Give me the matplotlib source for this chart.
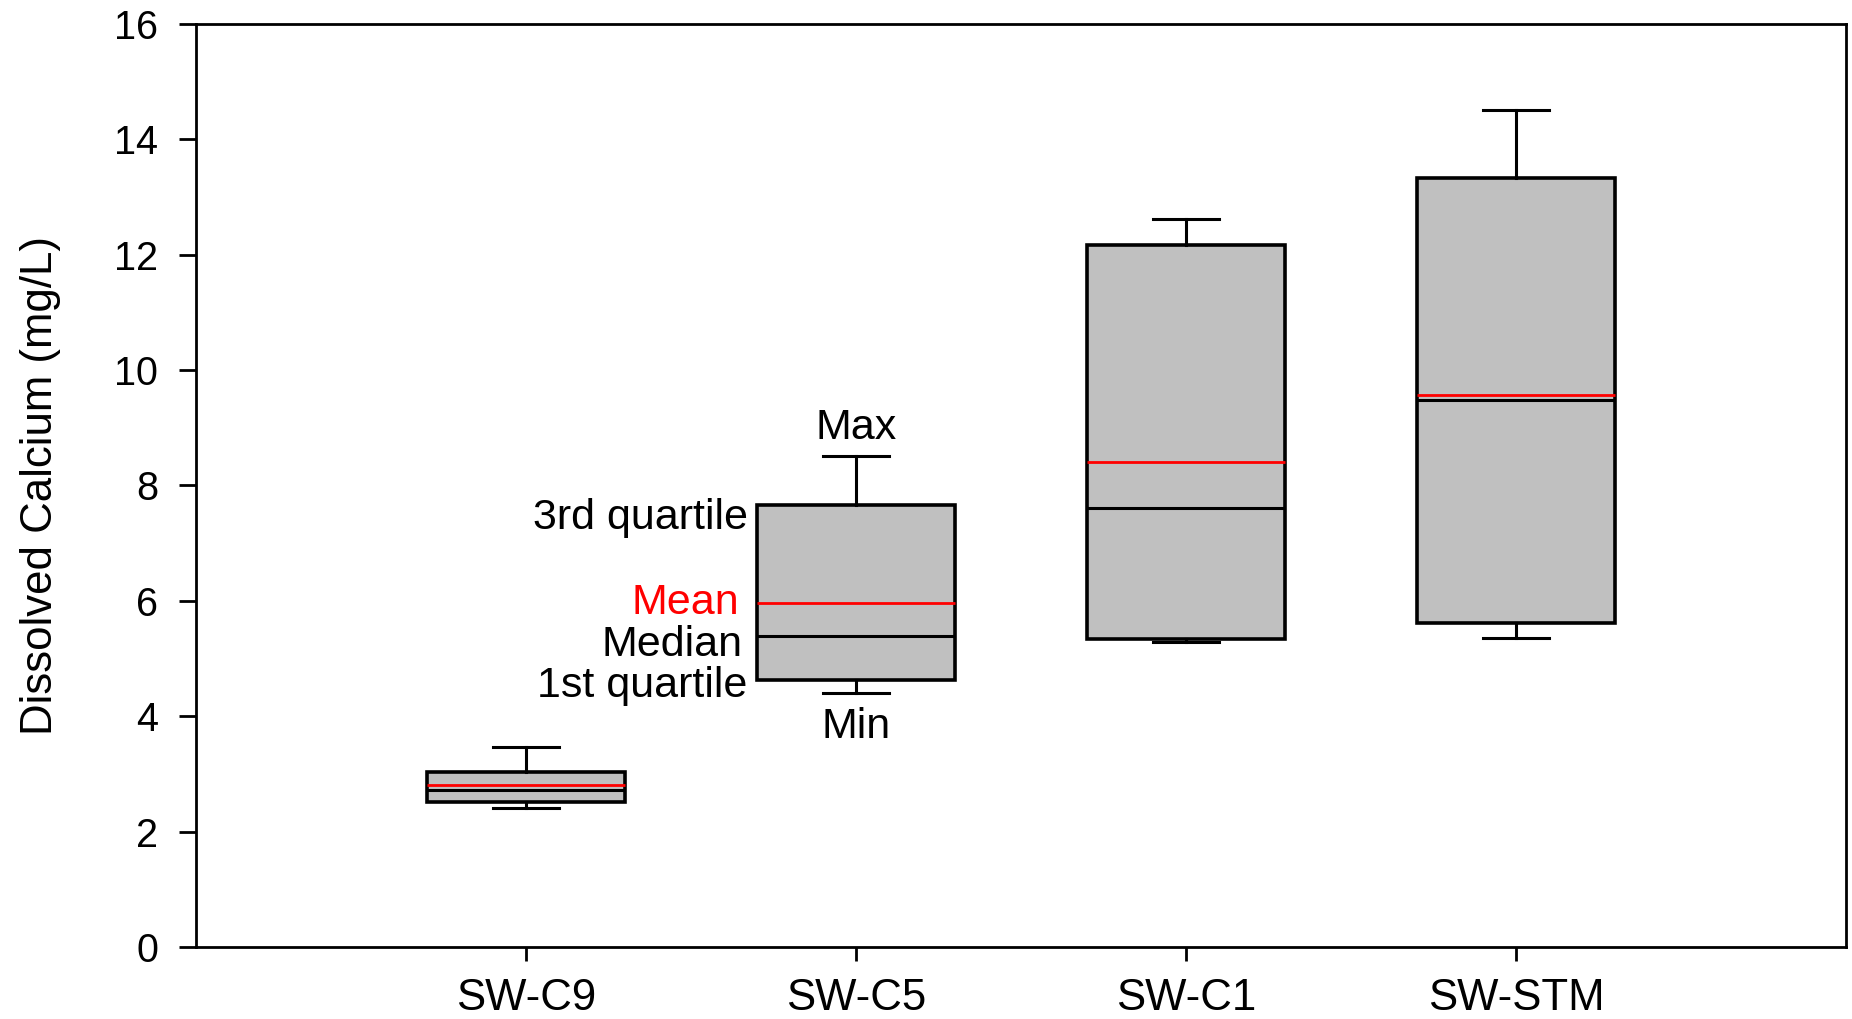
import matplotlib
matplotlib.use("Agg")
import matplotlib.pyplot as plt

plt.rcParams['font.family'] = ['Liberation Sans', 'DejaVu Sans']

# Dissolved calcium summary stats per surface-water site (mg/L)
sites = ['SW-C9', 'SW-C5', 'SW-C1', 'SW-STM']
ca_min = [2.41, 4.40, 5.28, 5.35]
ca_q1 = [2.52, 4.63, 5.34, 5.61]
ca_median = [2.73, 5.40, 7.61, 9.48]
ca_mean = [2.81, 5.97, 8.41, 9.57]
ca_q3 = [3.04, 7.66, 12.17, 13.32]
ca_max = [3.47, 8.51, 12.62, 14.51]

# site used for the legend-style callouts
key_site = 1
box_width = 0.6

stats = []
for i, name in enumerate(sites):
  stats.append({
    'label': name,
    'whislo': ca_min[i],
    'q1': ca_q1[i],
    'med': ca_median[i],
    'mean': ca_mean[i],
    'q3': ca_q3[i],
    'whishi': ca_max[i],
    'fliers': [],
  })

fig = plt.figure(figsize=(18.52, 10.19), dpi=100)
ax = fig.add_axes([0.1056, 0.0704, 0.8912, 0.9064])

ax.bxp(
  stats,
  positions=range(1, len(sites) + 1),
  widths=box_width,
  capwidths=0.2,
  patch_artist=True,
  showmeans=True,
  meanline=True,
  showfliers=False,
  boxprops=dict(facecolor='#C0C0C0', edgecolor='black', linewidth=2.6),
  whiskerprops=dict(color='black', linewidth=2.2),
  capprops=dict(color='black', linewidth=2.2),
  medianprops=dict(color='black', linewidth=2.2),
  meanprops=dict(color='red', linewidth=2.0, linestyle='-'),
)

ax.set_xlim(0, 5)
ax.set_ylim(0, 16)
ax.set_yticks(range(0, 17, 2))
ax.set_xticks(range(1, len(sites) + 1))
ax.set_xticklabels(sites)

for side in ['left', 'bottom', 'top', 'right']:
  ax.spines[side].set_linewidth(2.0)

ax.tick_params(axis='y', direction='out', length=12, width=2.0, pad=15, labelsize=28.5)
ax.tick_params(axis='x', direction='out', length=10, width=2.0, pad=12, labelsize=31.5)
ax.tick_params(top=False, right=False)

ax.set_ylabel('Dissolved Calcium (mg/L)', fontsize=31.5, labelpad=38)

# callouts explaining the box parts, placed beside the SW-C5 box
x = key_site + 1
left = x - box_width / 2
k = key_site
label_size = 31

def callout(text, xy, offset, ha='right', color='black'):
  ax.annotate(text, xy=xy, xytext=offset, textcoords='offset points',
              ha=ha, va='baseline', fontsize=label_size, color=color)

callout('Max', (x, ca_max[k]), (0, 12), ha='center')
callout('3rd quartile', (left, ca_q3[k]), (-6.5, -17))
callout('Mean', (left, ca_mean[k]), (-13, -8), color='red')
callout('Median', (left, ca_median[k]), (-10.5, -15))
callout('1st quartile', (left, ca_q1[k]), (-6.5, -12))
callout('Min', (x, ca_min[k]), (0, -32), ha='center')

fig.savefig('out.png', dpi=100)
